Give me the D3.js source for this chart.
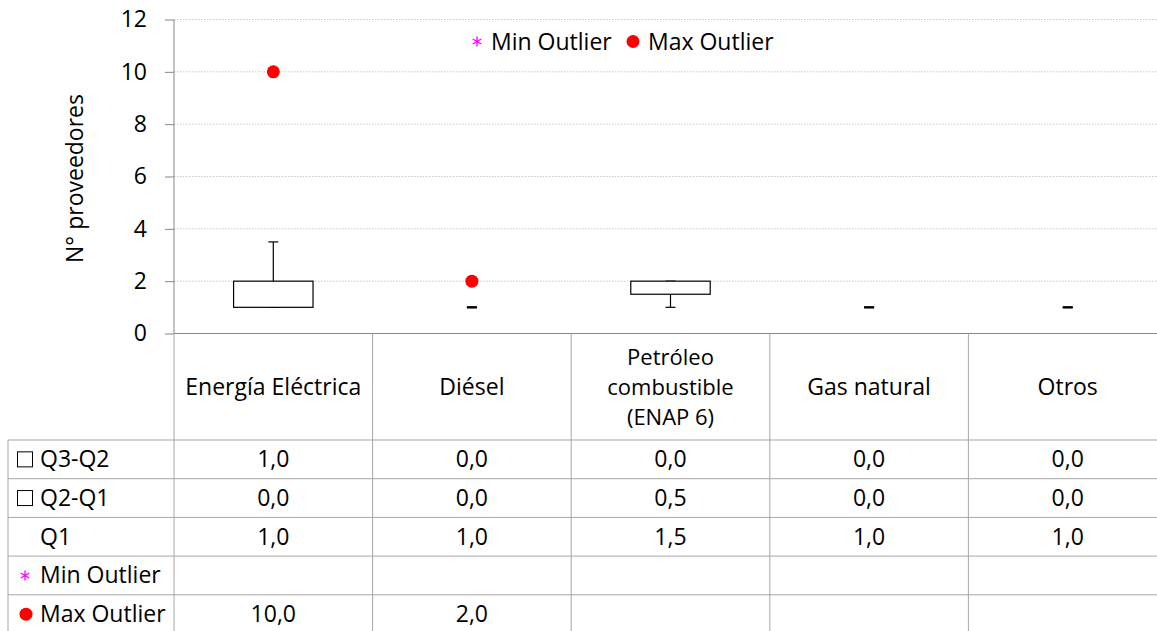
<!DOCTYPE html>
<html>
<head>
<meta charset="utf-8">
<script src="https://cdn.jsdelivr.net/npm/d3@7"></script>
<style>
  body { margin: 0; background: #fff; }
  text { font-family: "Open Sans", Lato, sans-serif; fill: #000; }
</style>
</head>
<body>
<div id="chart"></div>
<script>
const categories = ['Energía Eléctrica', 'Diésel', 'Petróleo combustible (ENAP 6)', 'Gas natural', 'Otros']
const headerLines = [['Energía Eléctrica'], ['Diésel'], ['Petróleo', 'combustible', '(ENAP 6)'], ['Gas natural'], ['Otros']]
const q3q2 = [1.0, 0.0, 0.0, 0.0, 0.0]
const q2q1 = [0.0, 0.0, 0.5, 0.0, 0.0]
const q1 = [1.0, 1.0, 1.5, 1.0, 1.0]
const whiskerMin = [1.0, 1.0, 1.0, 1.0, 1.0]
const whiskerMax = [3.5, 1.0, 2.0, 1.0, 1.0]
const minOutlier = [null, null, null, null, null]
const maxOutlier = [10.0, 2.0, null, null, null]
const yTicks = [0, 2, 4, 6, 8, 10, 12]

const W = 1157, H = 631
const plotLeft = 174, plotRight = 1167, plotTop = 19.5, plotBottom = 333.5
const tableLeft = 8, headerBottom = 440, rowH = 38.7
const fs = '23px'
const fmt = (v) => v === null ? '' : v.toFixed(1).replace('.', ',')

const svg = d3.select('#chart').append('svg').attr('width', W).attr('height', H)

const x = d3.scaleBand().domain(categories).range([plotLeft, plotRight]).padding(0)
const y = d3.scaleLinear().domain([0, 12]).range([plotBottom, plotTop])
const boxW = x.bandwidth() * 0.4
const cx = (i) => x(categories[i]) + x.bandwidth() / 2

// gridlines
svg.append('g')
  .selectAll('line')
  .data(yTicks.filter((d) => d > 0))
  .enter()
  .append('line')
  .attr('x1', plotLeft).attr('x2', plotRight)
  .attr('y1', (d) => y(d)).attr('y2', (d) => y(d))
  .attr('stroke', '#c8c8c8')
  .attr('stroke-dasharray', '1.5,1.5')

// y axis
const yAxis = svg.append('g')
  .attr('transform', 'translate(' + plotLeft + ',0)')
  .call(d3.axisLeft(y).tickValues(yTicks).tickSize(9).tickPadding(18).tickFormat(d3.format('d')))
yAxis.selectAll('path, line').attr('stroke', '#868686')
yAxis.selectAll('text').style('font-size', fs).style('font-family', '"Open Sans", sans-serif').attr('fill', '#000')
yAxis.select('.domain').attr('d', 'M0,' + plotTop + 'V' + plotBottom)

svg.append('text')
  .attr('transform', 'translate(83,' + ((plotTop + plotBottom) / 2 + 2) + ') rotate(-90)')
  .attr('text-anchor', 'middle')
  .style('font-size', fs)
  .text('N° proveedores')

// whiskers
const wh = svg.append('g').attr('stroke', '#000').attr('stroke-width', 1.2)
categories.forEach((c, i) => {
  const lo = q1[i]
  const hi = q1[i] + q2q1[i] + q3q2[i]
  wh.append('line').attr('x1', cx(i)).attr('x2', cx(i)).attr('y1', y(hi)).attr('y2', y(whiskerMax[i]))
  wh.append('line').attr('x1', cx(i)).attr('x2', cx(i)).attr('y1', y(lo)).attr('y2', y(whiskerMin[i]))
  const capW = whiskerMax[i] === whiskerMin[i] ? 2 : 1.2
  wh.append('line').attr('x1', cx(i) - 5).attr('x2', cx(i) + 5).attr('y1', y(whiskerMax[i])).attr('y2', y(whiskerMax[i])).attr('stroke-width', capW)
  wh.append('line').attr('x1', cx(i) - 5).attr('x2', cx(i) + 5).attr('y1', y(whiskerMin[i])).attr('y2', y(whiskerMin[i])).attr('stroke-width', capW)
})

// boxes (stacked segments)
const boxes = svg.append('g')
categories.forEach((c, i) => {
  const segs = [[q1[i], q1[i] + q2q1[i]], [q1[i] + q2q1[i], q1[i] + q2q1[i] + q3q2[i]]]
  segs.forEach((s) => {
    if (s[1] - s[0] <= 0) return
    boxes.append('rect')
      .attr('x', cx(i) - boxW / 2)
      .attr('width', boxW)
      .attr('y', y(s[1]))
      .attr('height', y(s[0]) - y(s[1]))
      .attr('fill', '#fff')
      .attr('stroke', '#000')
      .attr('stroke-width', 1.2)
  })
})

// outliers
svg.append('g')
  .selectAll('circle')
  .data(maxOutlier.map((v, i) => ({ v: v, i: i })).filter((d) => d.v !== null))
  .enter()
  .append('circle')
  .attr('cx', (d) => cx(d.i))
  .attr('cy', (d) => y(d.v))
  .attr('r', 6.5)
  .attr('fill', '#ff0000')

function star(g, px, py, s) {
  g.append('path')
    .attr('d', 'M' + px + ',' + (py - s) + 'V' + (py + s) +
      'M' + (px - s * 0.87) + ',' + (py - s * 0.5) + 'L' + (px + s * 0.87) + ',' + (py + s * 0.5) +
      'M' + (px - s * 0.87) + ',' + (py + s * 0.5) + 'L' + (px + s * 0.87) + ',' + (py - s * 0.5))
    .attr('stroke', '#ff00ff')
    .attr('stroke-width', 1.3)
    .attr('fill', 'none')
}

// legend
const leg = svg.append('g')
star(leg, 477, 41.5, 5)
leg.append('text').attr('x', 491).attr('y', 49.5).style('font-size', fs).text('Min Outlier')
leg.append('circle').attr('cx', 633).attr('cy', 41.5).attr('r', 6.5).attr('fill', '#ff0000')
leg.append('text').attr('x', 648).attr('y', 49.5).style('font-size', fs).text('Max Outlier')

// data table
const tbl = svg.append('g')
const lineColor = '#a6a6a6'
tbl.append('line').attr('x1', plotLeft).attr('x2', plotRight).attr('y1', plotBottom).attr('y2', plotBottom).attr('stroke', '#868686')
const rowLabels = ['Q3-Q2', 'Q2-Q1', 'Q1', 'Min Outlier', 'Max Outlier']
const rowData = [q3q2, q2q1, q1, minOutlier, maxOutlier]
rowLabels.forEach((r, k) => {
  const ry = headerBottom + k * rowH
  tbl.append('line').attr('x1', tableLeft).attr('x2', plotRight).attr('y1', ry).attr('y2', ry).attr('stroke', lineColor)
})
tbl.append('line').attr('x1', tableLeft).attr('x2', tableLeft).attr('y1', headerBottom).attr('y2', H).attr('stroke', lineColor)
categories.forEach((c, i) => {
  const bx = x(c)
  tbl.append('line').attr('x1', bx).attr('x2', bx).attr('y1', plotBottom).attr('y2', H).attr('stroke', lineColor)
})

// header labels
categories.forEach((c, i) => {
  const lines = headerLines[i]
  const midY = (plotBottom + headerBottom) / 2
  const multi = lines.length > 1
  lines.forEach((l, j) => {
    tbl.append('text')
      .attr('x', cx(i))
      .attr('y', midY + (j - (lines.length - 1) / 2) * 30 + 8)
      .attr('text-anchor', 'middle')
      .style('font-size', multi ? '22px' : fs)
      .text(l)
  })
})

// row labels and values
rowLabels.forEach((r, k) => {
  const my = headerBottom + k * rowH + rowH / 2
  tbl.append('text').attr('x', 40).attr('y', my + 8).style('font-size', fs).text(r)
  rowData[k].forEach((v, i) => {
    tbl.append('text')
      .attr('x', cx(i))
      .attr('y', my + 8)
      .attr('text-anchor', 'middle')
      .style('font-size', fs)
      .text(fmt(v))
  })
})
// row legend keys
;[0, 1].forEach((k) => {
  const my = headerBottom + k * rowH + rowH / 2
  tbl.append('rect').attr('x', 17.5).attr('y', my - 7.5).attr('width', 15).attr('height', 15)
    .attr('fill', '#fff').attr('stroke', '#000').attr('stroke-width', 1)
})
star(tbl, 25, headerBottom + 3 * rowH + rowH / 2, 5)
tbl.append('circle').attr('cx', 26).attr('cy', headerBottom + 4 * rowH + rowH / 2).attr('r', 6.5).attr('fill', '#ff0000')
</script>
</body>
</html>
